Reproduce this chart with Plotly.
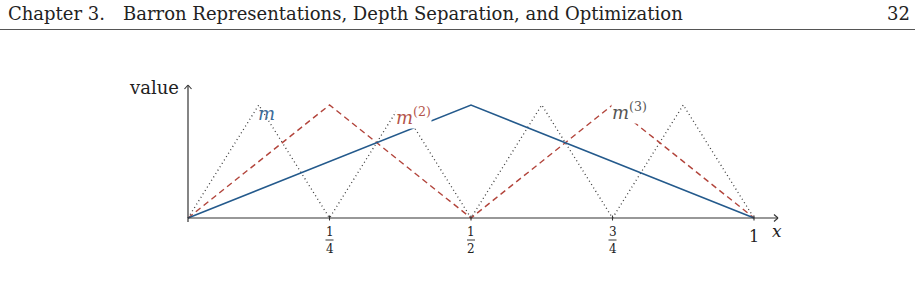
import plotly.graph_objects as go

# ---- data ----
x_m = [0, 0.5, 1]
y_m = [0, 1, 0]
x_m2 = [0, 0.25, 0.5, 0.75, 1]
y_m2 = [0, 1, 0, 1, 0]
x_m3 = [0, 0.125, 0.25, 0.375, 0.5, 0.625, 0.75, 0.875, 1]
y_m3 = [0, 1, 0, 1, 0, 1, 0, 1, 0]
tick_vals = [0.25, 0.5, 0.75]
tick_num = ["1", "1", "3"]
tick_den = ["4", "2", "4"]

W, H = 915, 292
X0, XS = 188, 566   # pixel of x=0, px per unit
Y0, YS = 218, 113   # pixel of y=0, px per unit

def px(v):  # pixel -> data x
    return (v - X0) / XS

def py(v):  # pixel -> data y
    return (Y0 - v) / YS

BLUE = "#245a8c"
RED = "#b2443b"
GRAY = "#3c3c3c"
AX = "#333333"
SERIF = "DejaVu Serif, serif"

fig = go.Figure()
fig.add_trace(go.Scatter(x=x_m3, y=y_m3, mode="lines",
                         line=dict(color=GRAY, width=1.3, dash="1px,3px"), hoverinfo="skip"))
fig.add_trace(go.Scatter(x=x_m2, y=y_m2, mode="lines",
                         line=dict(color=RED, width=1.4, dash="6px,4px"), hoverinfo="skip"))
fig.add_trace(go.Scatter(x=x_m, y=y_m, mode="lines",
                         line=dict(color=BLUE, width=1.6), hoverinfo="skip"))

shapes = []
# axes
shapes.append(dict(type="line", x0=0, y0=py(Y0 + 4), x1=0, y1=py(86), xref="x", yref="y",
                   line=dict(color=AX, width=1.2), layer="above"))
shapes.append(dict(type="line", x0=0, y0=0, x1=px(777), y1=0, xref="x", yref="y",
                   line=dict(color=AX, width=1.2), layer="above"))
# arrow heads (open)
for dx, dy in [(-4, -3.5), (-4, 3.5)]:
    shapes.append(dict(type="line", x0=px(778), y0=0, x1=px(778 + dx), y1=py(Y0 + dy),
                       xref="x", yref="y", line=dict(color=AX, width=1.1), layer="above"))
for dx, dy in [(-3.5, 4), (3.5, 4)]:
    shapes.append(dict(type="line", x0=0, y0=py(85), x1=px(X0 + dx), y1=py(85 + dy),
                       xref="x", yref="y", line=dict(color=AX, width=1.1), layer="above"))
# ticks
for t in tick_vals + [1]:
    shapes.append(dict(type="line", x0=t, y0=py(Y0 + 2.5), x1=t, y1=py(Y0 - 2.5),
                       xref="x", yref="y", line=dict(color=AX, width=1.1), layer="above"))
# fraction bars
for t in tick_vals:
    shapes.append(dict(type="line", x0=t - 4 / XS, y0=py(240), x1=t + 4 / XS, y1=py(240),
                       xref="x", yref="y", line=dict(color="#222", width=0.9), layer="above"))
# header rule
shapes.append(dict(type="line", x0=0, x1=1, y0=1 - 29.5 / H, y1=1 - 29.5 / H,
                   xref="paper", yref="paper", line=dict(color="#555", width=1)))

ann = []
for t, n, d in zip(tick_vals, tick_num, tick_den):
    ann.append(dict(x=t, y=py(232), text=n, showarrow=False, xanchor="center", yanchor="middle",
                    font=dict(family=SERIF, size=12, color="#222")))
    ann.append(dict(x=t, y=py(248.5), text=d, showarrow=False, xanchor="center", yanchor="middle",
                    font=dict(family=SERIF, size=12, color="#222")))
ann.append(dict(x=1, y=py(236), text="1", showarrow=False, xanchor="center", yanchor="middle",
                font=dict(family=SERIF, size=16, color="#222")))
ann.append(dict(x=px(777), y=py(231), text="<i>x</i>", showarrow=False, xanchor="center",
                yanchor="middle", font=dict(family=SERIF, size=17, color="#222")))
ann.append(dict(x=px(181), y=py(87), text="value", showarrow=False, xanchor="right",
                yanchor="middle", font=dict(family=SERIF, size=18, color="#222")))
# series labels
ann.append(dict(x=px(266), y=py(113), text="<i>m</i>", showarrow=False, xanchor="center",
                yanchor="middle", font=dict(family=SERIF, size=18, color="#3d6b99")))
ann.append(dict(x=px(413), y=py(116), text="<i>m</i><sup>(2)</sup>", showarrow=False,
                xanchor="center", yanchor="middle", bgcolor="white", borderpad=0,
                font=dict(family=SERIF, size=18, color="#b4544a")))
ann.append(dict(x=px(629), y=py(111), text="<i>m</i><sup>(3)</sup>", showarrow=False,
                xanchor="center", yanchor="middle", bgcolor="white", borderpad=0,
                font=dict(family=SERIF, size=18, color="#555555")))
# header
ann.append(dict(x=6 / W, y=1 - 14 / H, xref="paper", yref="paper", xanchor="left",
                yanchor="middle", showarrow=False,
                text="Chapter 3.\u2003Barron Representations, Depth Separation, and Optimization",
                font=dict(family=SERIF, size=18, color="#222")))
ann.append(dict(x=912 / W, y=1 - 14 / H, xref="paper", yref="paper", xanchor="right",
                yanchor="middle", showarrow=False, text="32",
                font=dict(family=SERIF, size=18, color="#222")))

fig.update_layout(
    width=W, height=H, margin=dict(l=0, r=0, t=0, b=0),
    paper_bgcolor="white", plot_bgcolor="white", showlegend=False,
    xaxis=dict(range=[px(0), px(W)], visible=False, fixedrange=True),
    yaxis=dict(range=[py(H), py(0)], visible=False, fixedrange=True),
    shapes=shapes, annotations=ann,
)
fig.write_html("out.html", config={"displayModeBar": False})
